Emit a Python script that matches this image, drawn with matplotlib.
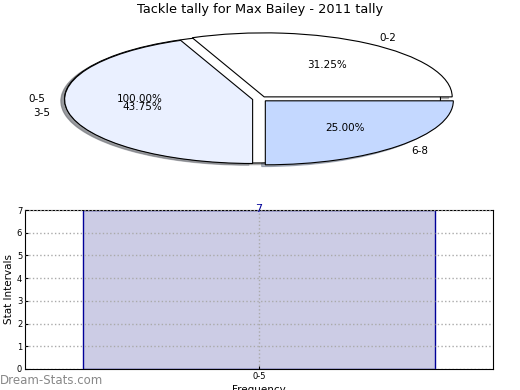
import matplotlib
matplotlib.use("Agg")
import matplotlib.pyplot as plt

title = "Tackle tally for Max Bailey - 2011 tally"
outer_labels = ["0-5"]
outer_values = [16]
pie_labels = ["0-2", "3-5", "6-8"]
pie_values = [5, 7, 4]
pie_colors = ["#ffffff", "#eaf0ff", "#c4d8ff"]

bar_categories = ["0-5"]
bar_values = [7]

W, H = 520, 390
fig = plt.figure(figsize=(W / 100, H / 100), dpi=100)

# Pie axes: centre at (260, 99) px, radii 188 x 64 px
cx, cy, rx, ry = 260, 99, 188, 64
top_px, bot_px = 20, 180
axp = fig.add_axes([0, (H - bot_px) / H, 1, (bot_px - top_px) / H])
fs = 7.5
shadow = dict(ox=-0.014, oy=-0.02, shade=0.5)
axp.pie(outer_values, labels=outer_labels, colors=["#ffffff"], explode=[0.04],
        autopct="%.2f%%", shadow=shadow, startangle=0,
        wedgeprops=dict(edgecolor="black", linewidth=0.8),
        textprops=dict(fontsize=fs))
axp.pie(pie_values, labels=pie_labels, colors=pie_colors, explode=[0.04] * 3,
        autopct="%.2f%%", shadow=shadow, startangle=0,
        wedgeprops=dict(edgecolor="black", linewidth=0.8),
        textprops=dict(fontsize=fs))
axp.set_aspect("auto")
axp.set_xlim(-cx / rx, (W - cx) / rx)
axp.set_ylim(-(bot_px - cy) / ry, (cy - top_px) / ry)
axp.axis("off")
fig.text(260 / W, 1 - 10 / H, title, ha="center", va="center", fontsize=9.3)

# Bar axes
axb = fig.add_axes([25 / W, (H - 369) / H, 468 / W, 159 / H])
xs = list(range(len(bar_categories)))
bars = axb.bar(xs, bar_values, width=0.75, color="#ccccE5", edgecolor="#000099", linewidth=1)
axb.set_xlim(-0.5, 0.5)
axb.set_ylim(0, 7)
axb.set_yticks(range(0, 8))
axb.set_xticks(xs)
axb.set_xticklabels(bar_categories)
axb.tick_params(labelsize=6, length=2, direction="in", pad=2)
axb.grid(True, linestyle=":", color="#aaaaaa", linewidth=1)
axb.set_axisbelow(False)
for b, v in zip(bars, bar_values):
    axb.annotate(str(v), (b.get_x() + b.get_width() / 2, v), xytext=(0, -3),
                 textcoords="offset points", ha="center", va="bottom",
                 color="#000099", fontsize=8, annotation_clip=False)
axb.set_ylabel("Stat Intervals", fontsize=7.5, labelpad=2)
axb.set_xlabel("Frequency", fontsize=7.5, labelpad=3)
fig.text(0, 1 - 380 / H, "Dream-Stats.com", ha="left", va="center", fontsize=8.5,
         color="#888888")

fig.savefig("out.png", dpi=100)
